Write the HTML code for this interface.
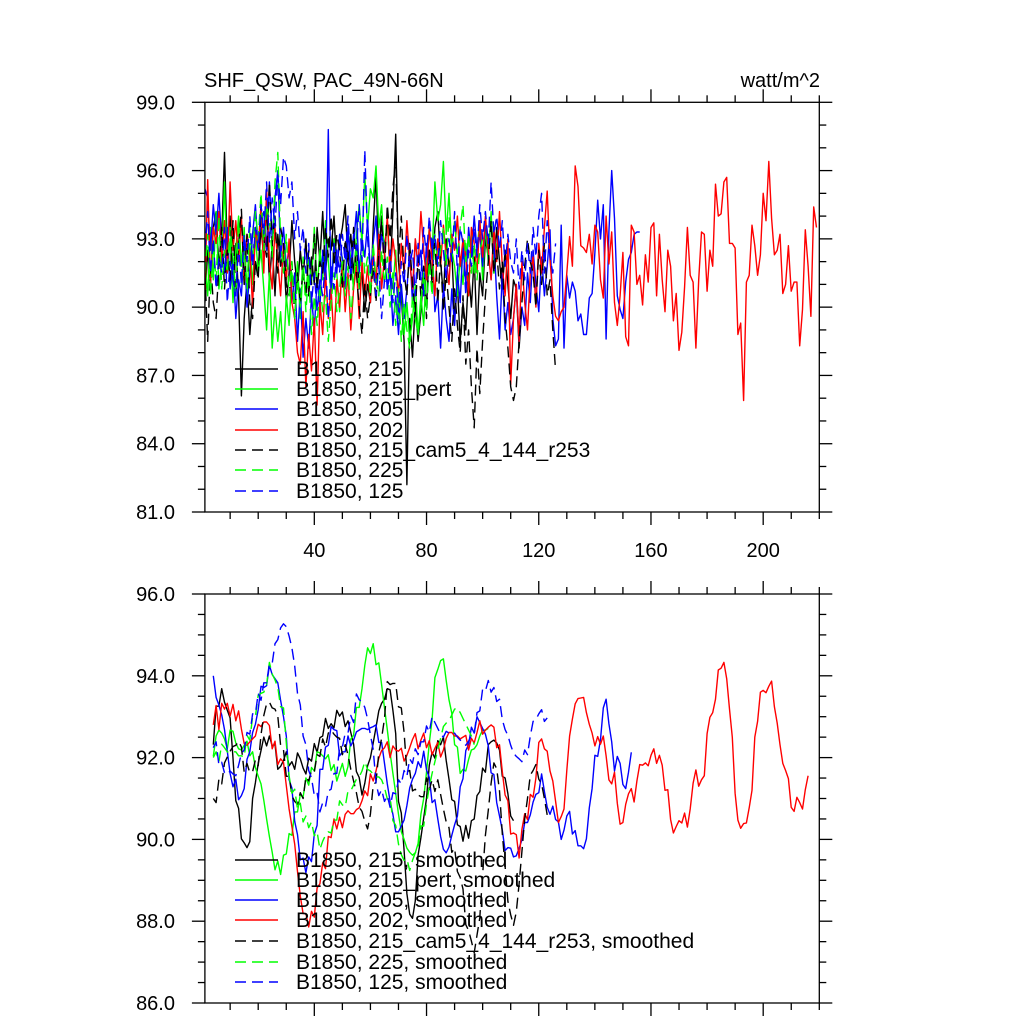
<!DOCTYPE html>
<html><head><meta charset="utf-8"><style>
html,body{margin:0;padding:0;background:#fff}
svg{display:block;font-family:"Liberation Sans",Arial,sans-serif}
</style></head><body>
<svg id="chart" width="1024" height="1024" viewBox="0 0 1024 1024" xmlns="http://www.w3.org/2000/svg">
<rect width="1024" height="1024" fill="#fff"/>
<text x="204" y="87" font-size="20">SHF_QSW, PAC_49N-66N</text>
<text x="820" y="87" font-size="20" text-anchor="end">watt/m^2</text>
<g id="top"></g>
<g id="bot"></g>
<g font-size="21">
<g><line x1="235" y1="369" x2="278" y2="369" stroke="#000" stroke-width="1.4"/><text x="296" y="376">B1850, 215</text></g>
<g><line x1="235" y1="389" x2="278" y2="389" stroke="#00ff00" stroke-width="1.4"/><text x="296" y="396">B1850, 215_pert</text></g>
<g><line x1="235" y1="409" x2="278" y2="409" stroke="#0000ff" stroke-width="1.4"/><text x="296" y="416">B1850, 205</text></g>
<g><line x1="235" y1="430" x2="278" y2="430" stroke="#ff0000" stroke-width="1.4"/><text x="296" y="437">B1850, 202</text></g>
<g><line x1="235" y1="450" x2="278" y2="450" stroke="#000" stroke-width="1.4" stroke-dasharray="11,6"/><text x="296" y="457">B1850, 215_cam5_4_144_r253</text></g>
<g><line x1="235" y1="470" x2="278" y2="470" stroke="#00ff00" stroke-width="1.4" stroke-dasharray="11,6"/><text x="296" y="477">B1850, 225</text></g>
<g><line x1="235" y1="491" x2="278" y2="491" stroke="#0000ff" stroke-width="1.4" stroke-dasharray="11,6"/><text x="296" y="498">B1850, 125</text></g>
</g>
<g font-size="21">
<g><line x1="235" y1="860" x2="278" y2="860" stroke="#000" stroke-width="1.4"/><text x="296" y="867">B1850, 215, smoothed</text></g>
<g><line x1="235" y1="880" x2="278" y2="880" stroke="#00ff00" stroke-width="1.4"/><text x="296" y="887">B1850, 215_pert, smoothed</text></g>
<g><line x1="235" y1="900" x2="278" y2="900" stroke="#0000ff" stroke-width="1.4"/><text x="296" y="907">B1850, 205, smoothed</text></g>
<g><line x1="235" y1="920" x2="278" y2="920" stroke="#ff0000" stroke-width="1.4"/><text x="296" y="927">B1850, 202, smoothed</text></g>
<g><line x1="235" y1="941" x2="278" y2="941" stroke="#000" stroke-width="1.4" stroke-dasharray="11,6"/><text x="296" y="948">B1850, 215_cam5_4_144_r253, smoothed</text></g>
<g><line x1="235" y1="962" x2="278" y2="962" stroke="#00ff00" stroke-width="1.4" stroke-dasharray="11,6"/><text x="296" y="969">B1850, 225, smoothed</text></g>
<g><line x1="235" y1="982" x2="278" y2="982" stroke="#0000ff" stroke-width="1.4" stroke-dasharray="11,6"/><text x="296" y="989">B1850, 125, smoothed</text></g>
</g>
</svg>
<script>
const xTickLabels=[40,80,120,160,200];
const topYTicks=[81,84,87,90,93,96,99];
const botYTicks=[86,88,90,92,94,96];
const seriesNames=["215","215_pert","205","202","215_cam5_4_144_r253","225","125"];
const s215=[90.2,92.5,91,93.5,94.2,91.8,93,96.8,92.5,94,91.2,92.8,90.5,86.1,89.5,91.2,88.8,90.5,92,91.5,
93.5,92.2,94.5,91,92.8,90.5,93.2,91.8,92.5,90.2,91.5,93.8,92,90.8,92.5,91.2,93,90.5,92.2,91,
93.5,92,94.2,91.5,93,92.5,94,91.8,92.8,93.5,94.5,92,93.2,91.5,92.8,90.8,91.5,89.8,91,90.2,
93.5,95.8,92.2,94,92.5,93.8,91.5,94.2,97.6,92,90.5,88.5,82.2,89.5,87.8,90.2,88.5,89.8,91.5,90,
92.5,91.2,93.5,94.2,92,90.5,93,91.8,92.5,89.5,91,88.5,90.2,89,91.5,90,92.2,88.8,91.5,90.5,
93,92.2,94,91.5,93.5,92,90.8,92.5,91,89.5,91.2,90.8,88.2,90];
const s215pert=[92,90.5,93.5,91.2,94.2,90.8,92,95.5,91.5,93,90.2,92.5,94,91.8,93.5,90.5,92.8,91,93.2,91.5,
92.5,90.8,89,91.5,88.2,90,88.5,89.8,87.8,90.5,89.2,91.5,90.2,92,89.5,91.8,90.5,92.2,91,93.5,
90.8,92.5,91.2,93.8,92,90.5,93,91.5,89.8,92.2,91,93.5,92,90.8,93.2,94.5,92.8,95.8,93.5,95.2,
94.8,96.2,93.5,94.5,92.2,93.8,91.5,90.8,92.5,89.5,91,88.8,90.2,88.5,89.5,91,88.8,90.5,89.2,91.8,
93.5,92.2,95.5,93.8,94.5,96.4,93.2,95,92.5,91.8,90.5,92.2,91,92.8,90.5,93.2,91.5,92.5,93.8,91.2,
93.5,92,94.2,91.5,92.8];
const s205=[95.2,94.8,92.5,94.5,93.2,95,92.8,91.5,93.5,90.8,92,89.5,91.2,90.5,92.8,90,91.5,93.2,94.5,92.5,
93.8,94.2,92.5,95.5,93,94.8,96,92.2,93.5,91.8,92.5,90.2,91.5,88.5,90.8,87.8,89.5,88.2,90.5,89,
91.2,90,92.5,91,97.8,90.5,92.8,91.5,93.2,92,90.8,93.5,91.2,92.8,94.2,91.5,93,92.2,93.8,91.5,
92.8,94,91.8,93.2,92.5,90.8,91.5,89.2,90.5,88.8,91,89.5,90.8,92.5,90.2,93,91.8,92.5,90.5,92.8,
91.5,93,89.8,90.5,88.2,91,89.5,88.5,90.8,89.2,91.5,90.2,92.8,91,93.5,92.2,94,92.5,93.2,91.8,
93.8,92.5,91.2,93,90.5,88.6,91.5,89,90.2,88.8,89.5,91,88.5,90,89.2,91.5,90.2,92.5,91,89.8,92.2,90.5,91.8,93.4,89.5,
88.3,88.6,93.6,88.2,91.4,90.4,91.1,90.7,89.4,89.7,88.8,88.8,90.4,90.6,92.4,94.7,93.0,94.5,88.6,93.3,96.0,93.9,90.5,89.9,89.5,91.1,92.1,92.4,93.2,93.3,93.3];
const s202=[90.5,95.6,91,93.5,92.8,94.2,92,93.8,91.5,95.5,92.5,93.8,92,94,91,93.2,92.4,90,93.5,92.6,
94.5,91.5,95.2,92,90.8,93.5,92,90.5,92.8,91.2,93,90.2,89.5,88,87.5,89.8,86.5,88.8,87.2,89.5,
85.7,90.2,88.8,91.5,89.5,90.8,88.5,91.2,90,92,89.8,91.5,89,90.8,91.8,89.5,92,90.5,91.8,90.2,
92.5,91,93.2,90.8,92.2,94,91.5,93,92,90.5,92.8,91.5,93.8,92,90.8,93,91.8,94.2,92.5,91.2,
93.5,92,90.5,93,91.8,93.6,92.2,91,93.2,92.5,94,91.8,93,92.2,90.5,93.5,92.8,91.5,93.8,92.2,
94,92.5,91.2,93.5,92,94.2,91.8,90.5,93,86.6,89.5,91,88.5,92,90.2,89,91.5,92.2,90,92.8,91.5,93.5,
95.1,92.1,90.5,89.6,89.4,89.8,90.0,91.5,93.1,91.8,96.2,95.3,92.7,
92.6,92.4,93.2,91.9,93.6,93.3,91.2,90.4,94.0,91.9,
93.3,90.2,89.2,90.5,92.4,88.7,88.3,93.6,93.3,91.0,
91.4,90.1,92.3,91.1,93.5,93.7,90.5,93.2,91.2,89.8,
92.5,91.8,89.4,90.6,88.1,88.9,90.9,93.5,91.4,91.1,
88.2,91.2,93.3,93.2,90.7,92.5,91.8,95.4,94.0,94.1,
95.5,95.7,92.8,92.8,92.6,88.8,89.3,85.9,91.1,91.4,
93.6,92.7,91.4,92.3,95.0,93.8,96.4,93.9,92.3,92.5,
93.2,90.6,91.0,92.7,90.7,91.1,91.1,88.3,89.9,93.4,
91.8,89.6,94.4,93.5];
const s215cam=[91.5,88.5,92,90.2,89.5,91.8,93.5,90.8,92.5,91.2,93.8,90.5,92.8,94.3,91,93.2,90.2,89.5,92,91.2,
94.5,93,92.2,95.5,92.8,94,91.5,93.5,92.8,91,90.5,92,89.5,91.5,90.2,91.8,90.5,92.5,91,93.2,
90.8,92,91.5,93.5,92.2,94,91.8,93.2,92.5,90.8,93,92,91.2,93.5,91.5,90,88.8,91,89.5,90.5,
91.8,90.2,92.5,93.8,91.5,94.5,93,95.2,96.5,92,94,91.5,90.5,92.8,91,89.8,92.2,90.5,91.8,89.5,
92.5,91,93,90.2,92.2,89.8,91.5,90,88.5,90.8,89.2,88,90.5,87.5,89,86.5,84.7,88.2,86.2,88.5,
90.5,92,93.8,91.5,92.5,90.8,92,89.5,88.2,86.5,85.9,86.5,88.5,90.2,91.8,93,92,91.5,90,92.5,
91,92.8,90.5,91.2,89,87.2];
const s225=[91.5,93.2,90.5,92.8,91.2,94,90.8,92.5,91.5,93.5,92.2,90.5,93.8,91,92.5,90.8,93.5,92,94.2,93,
95,92.5,94.5,93.8,92.2,95.5,96.8,93,91.5,93.2,90.5,92,89.5,91.2,90,92.2,89.8,91.5,88.8,90.5,
89.2,91,89.8,90.5,88.5,90.2,91.5,89.8,90.8,92,90.5,91.8,89.5,91.2,92.5,90.8,93,91.5,92.2,90.5,
92.8,91.2,90.5,92.5,91,92.2,90,91.5,89.2,90.8,88.5,90.2,89,88.2,90.5,89.5,88.8,90.2,91.5,89.8,
92,90.5,93.2,91.8,92.5,93.5,91.8,94,92.5,93.8,92.2,93.5,94.5,92,93.2,91.5,92.8,91.2,92.5,93];
const s125=[92.5,94.2,91.5,93,90.8,92.2,91.5,93.5,90.2,92,91.2,90.5,92.8,91,93.2,92,94,91.8,93.5,92.5,
94.5,93.2,95.5,92.8,94.8,93.5,95.8,94.5,96.6,96.2,94.8,95.5,93,94.2,92.5,93.5,91.5,92.8,90.2,91.5,
89.8,91.2,90.5,92,89.5,91.8,90.8,92.5,91.5,93.2,92,94,91.8,93.2,92.5,94.5,92,96.9,93,91.5,
92.2,90.5,91.8,89.5,91.2,90.8,92.5,90.2,91.5,89.8,92,91,93.2,91.8,92.5,90.5,92.8,91.2,93.5,92.2,
94,92.5,93.2,91.8,93.8,92.5,91.2,93,92,94.2,91.5,93.5,92.8,90.5,92.5,91.8,93.5,92.2,94.5,93,
94.2,92.8,95.5,93.2,94,92.5,93.8,91.8,93.2,92,91.5,93,90.8,92.5,91.2,92.8,91.5,93.5,92.2,94,
95,91.5,93.8,92.2,91.5,92.8];

const NS="http://www.w3.org/2000/svg";
const X0=204.9,X1=819.3,XMIN=1,XMAX=220;
function xs(v){return X0+(v-XMIN)*(X1-X0)/(XMAX-XMIN);}
function mk(tag,attrs,parent){const e=document.createElementNS(NS,tag);for(const k in attrs)e.setAttribute(k,attrs[k]);parent.appendChild(e);return e;}
function smooth(a){const r=[];for(let i=3;i<a.length-3;i++){let s=0;for(let j=-3;j<=3;j++)s+=a[i+j];r.push([i+1,s/7]);}return r;}

const styles=[["#000",""],["#00ff00",""],["#0000ff",""],["#ff0000",""],["#000","11,6"],["#00ff00","11,6"],["#0000ff","11,6"]];
const allSeries=[s215,s215pert,s205,s202,s215cam,s225,s125];

function panel(g,top,bot,ymin,ymax,yTicks,yMinorStep,smoothed,showXLabels){
  const ys=v=>bot-(v-ymin)*(bot-top)/(ymax-ymin);
  const cp="clip"+top;
  const defs=mk("defs",{},g);
  const c=mk("clipPath",{id:cp},defs);
  mk("rect",{x:X0,y:top,width:X1-X0,height:bot-top},c);
  const lines=mk("g",{"clip-path":"url(#"+cp+")"},g);
  
  
  allSeries.forEach((arr,k)=>{
    const pts=smoothed?smooth(arr):arr.map((v,i)=>[i+1,v]);
    const d=pts.map((p,i)=>(i?"L":"M")+xs(p[0]).toFixed(1)+","+ys(p[1]).toFixed(1)).join("");
    const p=mk("path",{d:d,fill:"none",stroke:styles[k][0],"stroke-width":1.4,"stroke-linejoin":"round"},lines);
    if(styles[k][1])p.setAttribute("stroke-dasharray",styles[k][1]);
    
    
  });
  const fr=mk("rect",{x:X0,y:top,width:X1-X0,height:bot-top,fill:"none",stroke:"#000","stroke-width":1.3},g);
  
  
  const ax=mk("g",{stroke:"#000","stroke-width":1.3},g);
  
  
  for(let v=10;v<=XMAX;v+=10){
    const x=xs(v),maj=v%40===0,L=maj?13:7;
    mk("line",{x1:x,y1:top,x2:x,y2:top-L},ax);
    mk("line",{x1:x,y1:bot,x2:x,y2:bot+L},ax);
  }
  for(let v=ymin;v<=ymax+1e-6;v+=yMinorStep){
    const y=ys(v),maj=yTicks.some(t=>Math.abs(t-v)<1e-6),L=maj?13:7;
    mk("line",{x1:X0,y1:y,x2:X0-L,y2:y},ax);
    mk("line",{x1:X1,y1:y,x2:X1+L,y2:y},ax);
  }
  yTicks.forEach(t=>{
    const tx=mk("text",{x:175,y:ys(t)+7,"font-size":20,"text-anchor":"end"},g);
    tx.textContent=t.toFixed(1);
    
    
  });
  if(showXLabels){
    xTickLabels.forEach(t=>{
      const tx=mk("text",{x:xs(t),y:bot+45,"font-size":20,"text-anchor":"middle"},g);
      tx.textContent=t;
      
      
    });
  }
}
panel(document.getElementById("top"),102.3,512,81,99,topYTicks,1,false,true);
panel(document.getElementById("bot"),594,1003,86,96,botYTicks,0.5,true,false);
</script>
</body></html>
